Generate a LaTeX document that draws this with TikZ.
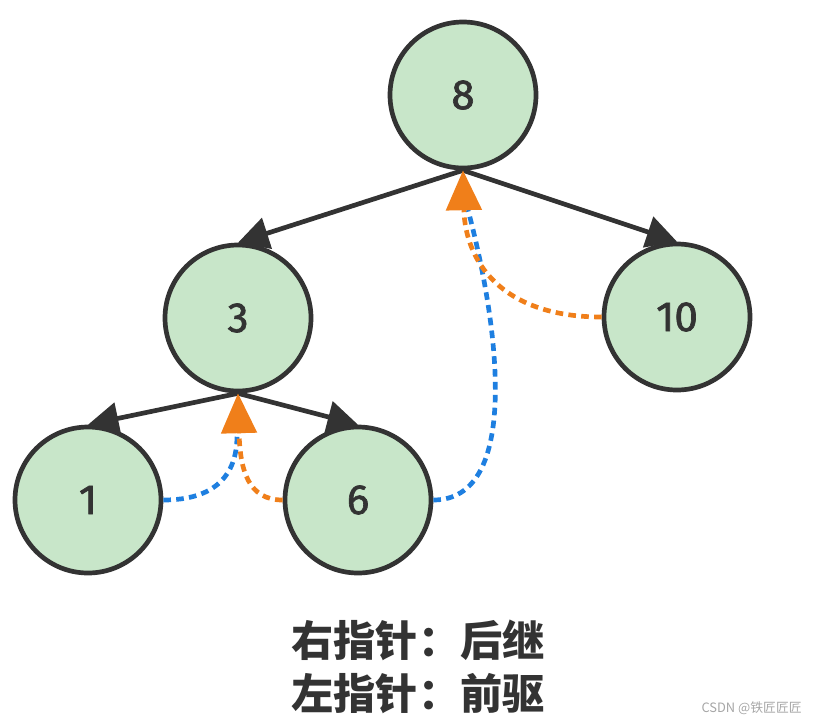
\documentclass[tikz,border=0pt]{standalone}
\usepackage{fontspec}
\setmainfont{Fira Sans}[FakeBold=1.5,AutoFakeBold=1.5]
\newfontfamily\cjk{Noto Sans CJK SC}
\usetikzlibrary{arrows.meta}
\definecolor{nodegreen}{HTML}{C8E6C9}
\definecolor{edgegray}{HTML}{333333}
\definecolor{thorange}{HTML}{F07F1A}
\definecolor{thblue}{HTML}{1E7FE0}
\begin{document}
\begin{tikzpicture}[x=0.03cm,y=-0.03cm,
  treenode/.style={circle,draw=edgegray,fill=nodegreen,line width=4pt,minimum size=146*0.03cm,inner sep=0pt,font=\fontsize{36}{40}\selectfont,text=edgegray},
  treeedge/.style={draw=edgegray,line width=4pt,-{Triangle[length=26pt,width=27pt]}},
  threadline/.style={line width=4pt,dash pattern=on 6.5pt off 4.5pt},
  orangetip/.style={-{Triangle[length=34pt,width=30pt]}}]
\useasboundingbox (0,0) rectangle (819,726);
\node[treenode] (n8) at (463,95) {8};
\node[treenode] (n3) at (238,318) {3};
\node[treenode] (n10) at (677,317) {10};
\node[treenode] (n1) at (88,500) {1};
\node[treenode] (n6) at (358,500) {6};
% tree edges
\draw[treeedge] (n8.south) -- (n3.north);
\draw[treeedge] (n8.south) -- (n10.north);
\draw[treeedge] (n3.south) -- (n1.north);
\draw[treeedge] (n3.south) -- (n6.north);
% threads
\coordinate (b3) at (237,436);
\coordinate (b8) at (468,210);
\draw[threadline,thblue] (n1.east) .. controls (215,500) and (237,475) .. (b3);
\draw[threadline,thorange,orangetip] (n6.west) .. controls (248,500) and (240,470) .. (n3.south);
\draw[threadline,thblue] (n6.east) .. controls (520,500) and (500,330) .. (b8);
\draw[threadline,thorange,orangetip] (n10.west) .. controls (500,317) and (465,260) .. (n8.south);
% caption
\node[font=\cjk\bfseries\fontsize{36}{45}\selectfont,text=edgegray,align=center] (cap) at (418,667) {右指针：后继\\左指针：前驱};
\node[font=\cjk\fontsize{11}{13}\selectfont,text=gray!70,anchor=east] (wm) at (806,708) {CSDN @铁匠匠匠};
\end{tikzpicture}
\end{document}
